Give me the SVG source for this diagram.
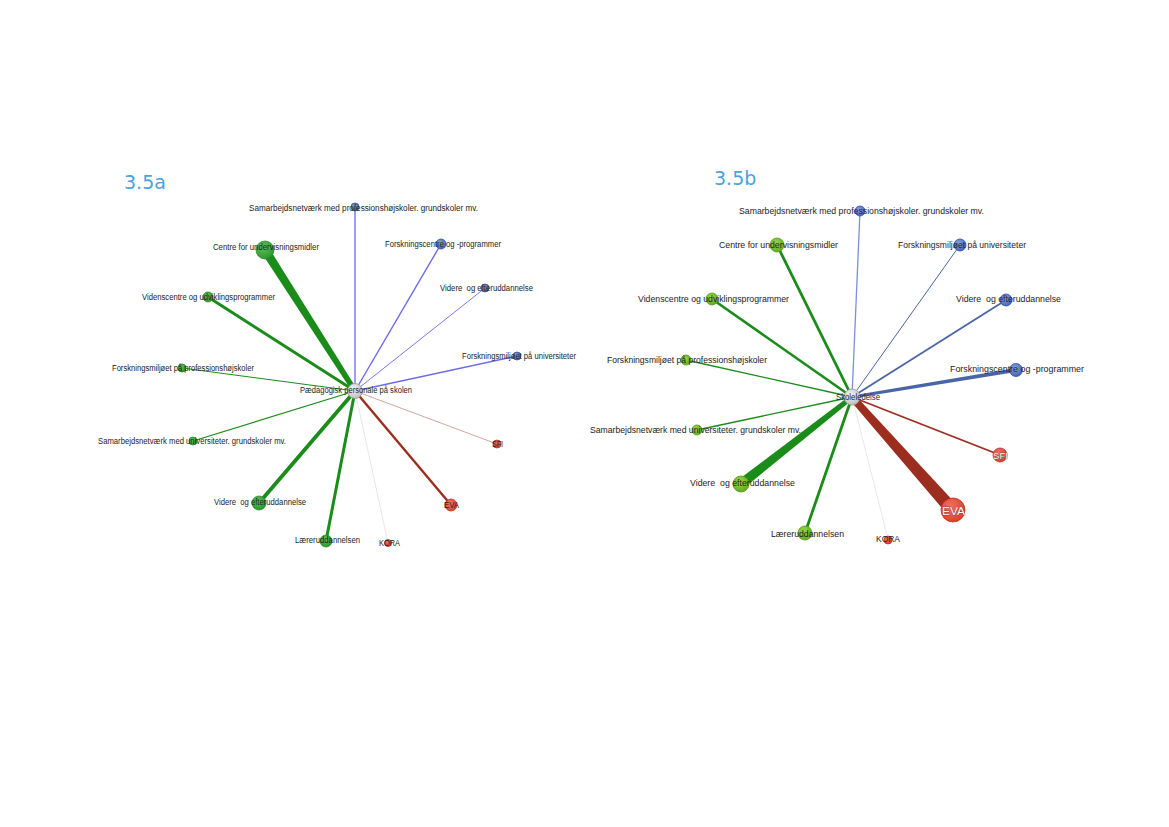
<svg xmlns="http://www.w3.org/2000/svg" width="1169" height="827" viewBox="0 0 1169 827">
<defs>
<radialGradient id="gG" cx="40%" cy="35%" r="70%"><stop offset="0" stop-color="#5cc25c"/><stop offset="1" stop-color="#27952a"/></radialGradient>
<radialGradient id="gL" cx="40%" cy="35%" r="70%"><stop offset="0" stop-color="#9ad84a"/><stop offset="1" stop-color="#5aaa1e"/></radialGradient>
<radialGradient id="gB" cx="40%" cy="35%" r="70%"><stop offset="0" stop-color="#8aa4e0"/><stop offset="1" stop-color="#3a60b8"/></radialGradient>
<radialGradient id="gR" cx="40%" cy="35%" r="70%"><stop offset="0" stop-color="#f07060"/><stop offset="1" stop-color="#d8402c"/></radialGradient>
<radialGradient id="gC" cx="40%" cy="35%" r="70%"><stop offset="0" stop-color="#f4f4f4"/><stop offset="1" stop-color="#bcbcbc"/></radialGradient>
<style>
.t{font-family:"Liberation Sans",Arial,sans-serif;fill:#222;text-anchor:middle;white-space:pre}
.a{font-size:8.5px}
.b{font-size:9.5px}
.w{fill:#fff;stroke:#333;stroke-width:0.5;paint-order:stroke}
.title{font-family:"DejaVu Sans",Verdana,sans-serif;font-size:19px;fill:#4aa3df}
.ng{fill:url(#gG);stroke:#2a8a2a;stroke-width:0.8}
.nl{fill:url(#gL);stroke:#5a9a20;stroke-width:0.8}
.nb{fill:url(#gB);stroke:#2f4f9f;stroke-width:0.8}
.nr{fill:url(#gR);stroke:#c03020;stroke-width:0.8}
.nc{fill:url(#gC);stroke:#999;stroke-width:0.8}
.eg{stroke:#1a8c1a;fill:none;stroke-linecap:round}
.ebl{stroke:#6a6aee;fill:none}
.ebr{stroke:#4a64a8;fill:none}
.er{stroke:#9b2e1e;fill:none}
</style>
</defs>
<rect width="1169" height="827" fill="#fff"/>
<text class="title" x="124" y="189">3.5a</text>
<text class="title" x="714" y="185">3.5b</text>

<g id="edges">
<line class="ebl" x1="355" y1="391" x2="355" y2="207" stroke-width="1.3"/>
<polygon points="352.5,392 357.5,390 269,248 261,252" fill="#1a8c1a"/>
<line class="ebl" x1="355" y1="391" x2="441" y2="244" stroke-width="1.4"/>
<line class="ebl" x1="355" y1="391" x2="485" y2="288" stroke-width="0.9"/>
<line class="ebl" x1="355" y1="391" x2="517" y2="356" stroke-width="1.4"/>
<line class="eg" x1="355" y1="391" x2="208" y2="297" stroke-width="3"/>
<line class="eg" x1="355" y1="391" x2="182" y2="368" stroke-width="1"/>
<line class="eg" x1="355" y1="391" x2="193" y2="441" stroke-width="1.3"/>
<line class="eg" x1="355" y1="391" x2="259" y2="503" stroke-width="3.8"/>
<line class="eg" x1="355" y1="391" x2="326" y2="541" stroke-width="3"/>
<line x1="355" y1="391" x2="388" y2="543" stroke="#ecdada" stroke-width="0.8"/>
<line class="er" x1="355" y1="391" x2="451" y2="505" stroke-width="2.4"/>
<line x1="355" y1="391" x2="497" y2="444" stroke="#caa8a0" stroke-width="1"/>
<line x1="852" y1="397" x2="860" y2="211" style="stroke:#7a90d8;stroke-width:1.3"/>
<line class="eg" x1="852" y1="397" x2="777" y2="245" stroke-width="2.8"/>
<line class="ebr" x1="852" y1="397" x2="960" y2="245" stroke-width="1"/>
<line class="eg" x1="852" y1="397" x2="712" y2="299" stroke-width="2.6"/>
<line class="ebr" x1="852" y1="397" x2="1006" y2="300" stroke-width="1.8"/>
<line class="eg" x1="852" y1="397" x2="686" y2="360" stroke-width="1.3"/>
<polygon points="852,395.5 852,398.5 1016,372 1016,368" fill="#4a64a8"/>
<line class="eg" x1="852" y1="397" x2="697" y2="430" stroke-width="1.3"/>
<polygon points="849.5,396 854,398.5 744,488 738,480" fill="#1a8c1a"/>
<line class="eg" x1="852" y1="397" x2="805" y2="533" stroke-width="2.8"/>
<line x1="852" y1="397" x2="888" y2="539" stroke="#e8e0e0" stroke-width="0.8"/>
<polygon points="849,399 855,395 957,505 947,514" fill="#9b2e1e"/>
<line class="er" x1="852" y1="397" x2="1000" y2="455" stroke-width="1.8"/>
</g>

<g id="a-samprof"><circle class="nb" cx="355" cy="207" r="4"/><text class="t a" x="363.5" y="211" textLength="229" lengthAdjust="spacingAndGlyphs">Samarbejdsnetværk med professionshøjskoler. grundskoler mv.</text></g>
<g id="a-centre"><circle class="ng" cx="265" cy="250" r="9"/><text class="t a" x="266" y="250" textLength="106" lengthAdjust="spacingAndGlyphs">Centre for undervisningsmidler</text></g>
<g id="a-forskcentre"><circle class="nb" cx="441" cy="244" r="5"/><text class="t a" x="443" y="247" textLength="116" lengthAdjust="spacingAndGlyphs">Forskningscentre og -programmer</text></g>
<g id="a-videreblue"><circle class="nb" cx="485" cy="288" r="4"/><text class="t a" x="486.5" y="291" textLength="93" lengthAdjust="spacingAndGlyphs">Videre  og efteruddannelse</text></g>
<g id="a-forskuni"><circle class="nb" cx="517" cy="356" r="4"/><text class="t a" x="519" y="359" textLength="114" lengthAdjust="spacingAndGlyphs">Forskningsmiljøet på universiteter</text></g>
<g id="a-videns"><circle class="ng" cx="208" cy="297" r="5"/><text class="t a" x="208.5" y="300" textLength="133" lengthAdjust="spacingAndGlyphs">Videnscentre og udviklingsprogrammer</text></g>
<g id="a-forskprof"><circle class="ng" cx="182" cy="368" r="4"/><text class="t a" x="183" y="371" textLength="142" lengthAdjust="spacingAndGlyphs">Forskningsmiljøet på professionshøjskoler</text></g>
<g id="a-samuni"><circle class="ng" cx="193" cy="441" r="4"/><text class="t a" x="192" y="444" textLength="188" lengthAdjust="spacingAndGlyphs">Samarbejdsnetværk med universiteter. grundskoler mv.</text></g>
<g id="a-videregreen"><circle class="ng" cx="259" cy="503" r="7"/><text class="t a" x="260" y="505" textLength="92" lengthAdjust="spacingAndGlyphs">Videre  og efteruddannelse</text></g>
<g id="a-laerer"><circle class="ng" cx="326" cy="541" r="6"/><text class="t a" x="327.5" y="543" textLength="65" lengthAdjust="spacingAndGlyphs">Læreruddannelsen</text></g>
<g id="a-kora"><circle class="nr" cx="388" cy="543" r="3.5"/><text class="t a" x="389.5" y="546" textLength="21" lengthAdjust="spacingAndGlyphs">KORA</text></g>
<g id="a-eva"><circle class="nr" cx="451" cy="505" r="6"/><text class="t a" x="451.5" y="508" textLength="15" lengthAdjust="spacingAndGlyphs">EVA</text></g>
<g id="a-sfi"><circle class="nr" cx="497" cy="444" r="4"/><text class="t a" x="497.5" y="447" textLength="11" lengthAdjust="spacingAndGlyphs">SFI</text></g>
<g id="a-center"><circle class="nc" cx="355" cy="391" r="7.5"/><text class="t a" x="356" y="393" textLength="112" lengthAdjust="spacingAndGlyphs">Pædagogisk personale på skolen</text></g>

<g id="b-samprof"><circle class="nb" cx="860" cy="211" r="5"/><text class="t b" x="861.5" y="214" textLength="245" lengthAdjust="spacingAndGlyphs">Samarbejdsnetværk med professionshøjskoler. grundskoler mv.</text></g>
<g id="b-centre"><circle class="nl" cx="777" cy="245" r="7"/><text class="t b" x="778.5" y="248" textLength="119" lengthAdjust="spacingAndGlyphs">Centre for undervisningsmidler</text></g>
<g id="b-forskuni"><circle class="nb" cx="960" cy="245" r="6"/><text class="t b" x="962" y="248" textLength="128" lengthAdjust="spacingAndGlyphs">Forskningsmiljøet på universiteter</text></g>
<g id="b-videns"><circle class="nl" cx="712" cy="299" r="6"/><text class="t b" x="713.5" y="302" textLength="151" lengthAdjust="spacingAndGlyphs">Videnscentre og udviklingsprogrammer</text></g>
<g id="b-videreblue"><circle class="nb" cx="1006" cy="300" r="6"/><text class="t b" x="1008.5" y="302" textLength="105" lengthAdjust="spacingAndGlyphs">Videre  og efteruddannelse</text></g>
<g id="b-forskprof"><circle class="nl" cx="686" cy="360" r="5"/><text class="t b" x="687" y="363" textLength="160" lengthAdjust="spacingAndGlyphs">Forskningsmiljøet på professionshøjskoler</text></g>
<g id="b-forskcentre"><circle class="nb" cx="1016" cy="370" r="6.5"/><text class="t b" x="1017" y="372" textLength="134" lengthAdjust="spacingAndGlyphs">Forskningscentre og -programmer</text></g>
<g id="b-samuni"><circle class="nl" cx="697" cy="430" r="5"/><text class="t b" x="695.5" y="433" textLength="211" lengthAdjust="spacingAndGlyphs">Samarbejdsnetværk med universiteter. grundskoler mv.</text></g>
<g id="b-videregreen"><circle class="nl" cx="741" cy="484" r="8"/><text class="t b" x="742.5" y="486" textLength="105" lengthAdjust="spacingAndGlyphs">Videre  og efteruddannelse</text></g>
<g id="b-laerer"><circle class="nl" cx="805" cy="533" r="7"/><text class="t b" x="807.5" y="537" textLength="73" lengthAdjust="spacingAndGlyphs">Læreruddannelsen</text></g>
<g id="b-kora"><circle class="nr" cx="888" cy="540" r="4"/><text class="t b" x="888" y="542" textLength="24" lengthAdjust="spacingAndGlyphs">KORA</text></g>
<g id="b-eva"><circle class="nr" cx="953" cy="510" r="12"/><text class="t b w" x="953.5" y="515" textLength="23" lengthAdjust="spacingAndGlyphs" style="font-size:11px">EVA</text></g>
<g id="b-sfi"><circle class="nr" cx="1000" cy="455" r="7"/><text class="t b w" x="1000.5" y="459" textLength="15" lengthAdjust="spacingAndGlyphs">SFI</text></g>
<g id="b-center"><circle class="nc" cx="852" cy="397" r="8"/><text class="t b" x="858" y="400" textLength="44" lengthAdjust="spacingAndGlyphs">Skoleledelse</text></g>
</svg>
